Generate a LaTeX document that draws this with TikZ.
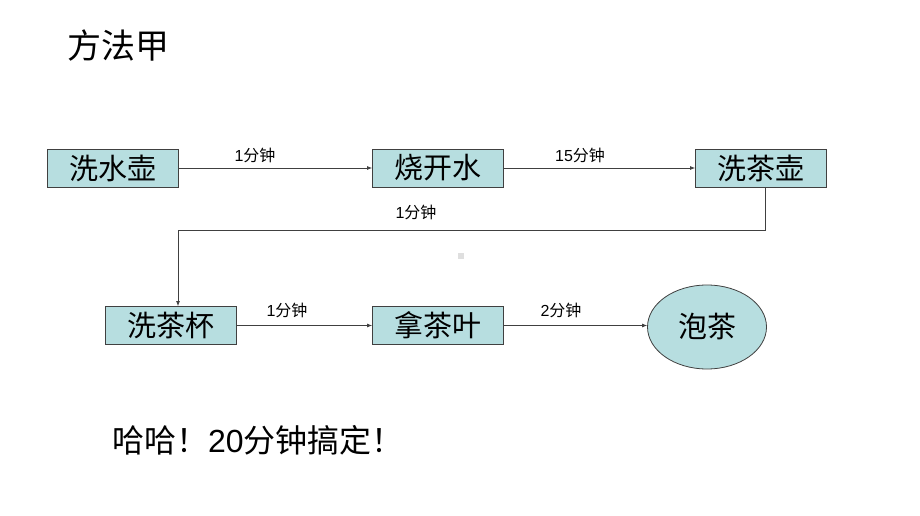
\documentclass[tikz,border=0pt]{standalone}
\usepackage{fontspec}
\setmainfont{Liberation Sans}
\newfontfamily\cjk{Noto Sans CJK SC}
\usetikzlibrary{arrows.meta,shapes.geometric}
\definecolor{boxfill}{RGB}{183,222,224}
\definecolor{linec}{RGB}{64,64,64}
\tikzset{
  stepbox/.style={draw=linec, fill=boxfill, line width=0.8pt, minimum width=131pt, minimum height=38pt, inner sep=0pt, font=\cjk\fontsize{29}{29}\selectfont},
  endell/.style={draw=linec, fill=boxfill, line width=0.8pt, ellipse, minimum width=119pt, minimum height=84pt, inner sep=0pt, font=\cjk\fontsize{29}{29}\selectfont},
  conn/.style={draw=linec, line width=0.8pt, -{Latex[length=5pt,width=4pt]}},
  lbl/.style={font=\fontsize{16}{16}\selectfont, text=black, inner sep=0pt}
}
\begin{document}
\begin{tikzpicture}[x=1pt,y=-1pt]
\useasboundingbox (0,0) rectangle (920,516);
\fill[white] (0,0) rectangle (920,516);
\node[anchor=west, inner sep=0pt, font=\cjk\fontsize{34}{34}\selectfont] (title) at (67,46) {方法甲};
\node[stepbox] (a) at (112.5,168) {洗水壶};
\node[stepbox] (b) at (438,168) {烧开水};
\node[stepbox] (c) at (761,168) {洗茶壶};
\node[stepbox] (d) at (170.5,325.5) {洗茶杯};
\node[stepbox] (e) at (438,325.5) {拿茶叶};
\node[endell] (f) at (707,327) {泡茶};
\coordinate (c1) at (765,230);
\coordinate (c2) at (178,230);
\draw[conn] (a) -- (b);
\draw[conn] (b) -- (c);
\draw[conn] (c.south -| c1) -- (c1) -- (c2) -- (c2 |- d.north);
\draw[conn] (d) -- (e);
\draw[conn] (e.east) -- (f.west |- e.east);
\node[lbl] (l1) at (255,155) {1{\cjk 分钟}};
\node[lbl] (l2) at (580,155) {15{\cjk 分钟}};
\node[lbl] (l3) at (416,212) {1{\cjk 分钟}};
\node[lbl] (l4) at (287,310) {1{\cjk 分钟}};
\node[lbl] (l5) at (561,310) {2{\cjk 分钟}};
\node[anchor=west, inner sep=0pt, font=\fontsize{32}{32}\selectfont] (bottom) at (112,440) {{\cjk 哈哈！}20{\cjk 分钟搞定！}};
\fill[gray!25] (457.5,252.5) rectangle (463.5,258.5);
\end{tikzpicture}
\end{document}
